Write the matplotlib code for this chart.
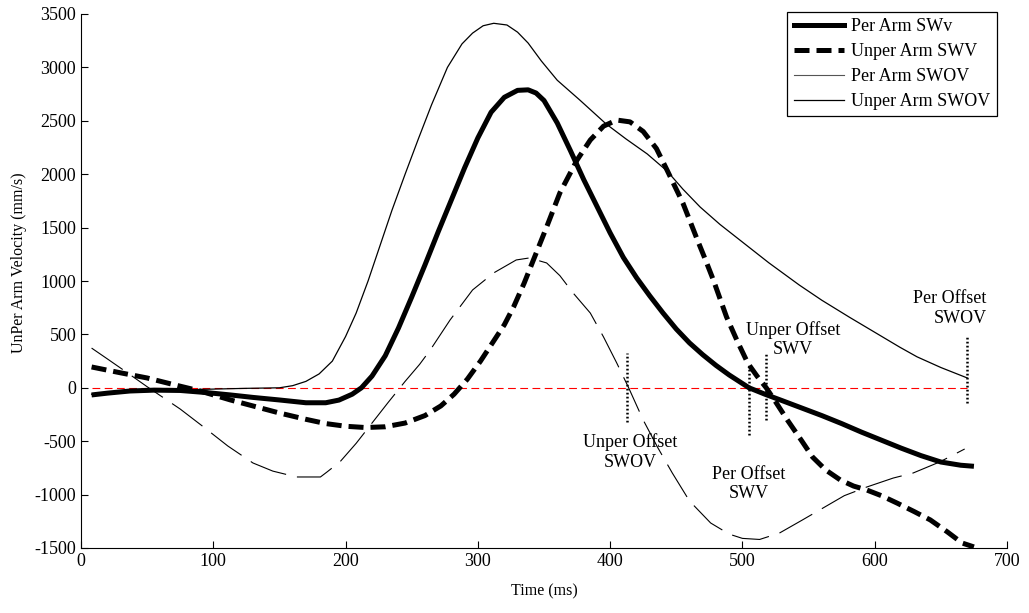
import matplotlib
matplotlib.use("Agg")
import matplotlib.pyplot as plt
from matplotlib.lines import Line2D

plt.rcParams['font.family'] = ['Liberation Serif', 'DejaVu Serif']
plt.rcParams['axes.unicode_minus'] = False

# Per Arm SWv (thick solid)
t_per_swv = [8, 20, 37, 55, 75, 95, 113, 130, 150, 170, 185, 195, 205, 212, 220, 230,
             240, 250, 260, 270, 280, 290, 300, 310, 320, 330, 338, 344, 350, 360, 370,
             380, 390, 400, 410, 420, 430, 440, 450, 460, 470, 480, 490, 505, 517, 530,
             545, 560, 575, 590, 605, 620, 635, 650, 665, 675]
v_per_swv = [-67, -50, -30, -22, -25, -45, -67, -90, -114, -140, -140, -115, -60, 0, 110, 300,
             560, 850, 1150, 1460, 1760, 2060, 2340, 2580, 2720, 2785, 2790, 2760, 2690, 2480, 2220,
             1950, 1700, 1450, 1220, 1030, 860, 700, 550, 420, 310, 210, 120, 0, -60, -120,
             -190, -260, -335, -415, -490, -565, -635, -695, -725, -735]

# Unper Arm SWV (thick dashed)
t_unper_swv = [8, 30, 50, 70, 90, 113, 130, 150, 170, 185, 200, 215, 230, 245, 260, 272,
               282, 292, 302, 311, 320, 327, 335, 342, 352, 362, 375, 385, 395, 405, 415,
               425, 435, 443, 455, 466, 472, 478, 488, 496, 504, 511, 518, 525, 534, 545,
               553, 563, 574, 584, 594, 605, 617, 630, 642, 655, 666, 675]
v_unper_swv = [195, 140, 92, 30, -30, -114, -170, -236, -295, -335, -360, -372, -365, -330, -260, -170,
               -60, 80, 250, 420, 590, 757, 980, 1197, 1506, 1825, 2133, 2320, 2450, 2507, 2490,
               2400, 2240, 2039, 1730, 1383, 1200, 1010, 663, 440, 232, 110, 0, -130, -302, -500,
               -648, -770, -863, -920, -957, -1010, -1080, -1160, -1237, -1350, -1453, -1490]

# Per Arm SWOV (thin solid)
t_per_swov = [8, 30, 60, 90, 125, 150, 160, 170, 180, 190, 200, 208, 217, 226, 235, 245,
              255, 265, 277, 288, 296, 304, 312, 322, 330, 338, 348, 360, 377, 397, 412,
              428, 443, 455, 468, 483, 498, 520, 543, 560, 581, 600, 619, 632, 650, 670]
v_per_swov = [-60, -45, -30, -15, -5, 0, 20, 60, 130, 250, 480, 700, 1000, 1330, 1660, 2000,
              2330, 2650, 3000, 3220, 3321, 3390, 3413, 3397, 3330, 3228, 3060, 2880, 2695, 2470, 2330,
              2190, 2030, 1860, 1693, 1530, 1384, 1170, 962, 820, 660, 520, 380, 290, 190, 92]

# Unper Arm SWOV (thin long-dashed)
t_unper_swov = [8, 20, 32, 50, 75, 93, 111, 130, 145, 163, 181, 186, 196, 208, 220, 232,
                245, 256, 264, 279, 296, 312, 329, 339, 352, 362, 372, 385, 395, 405, 414,
                425, 436, 447, 460, 476, 490, 500, 513, 528, 545, 561, 577, 594, 614, 629,
                649, 668]
v_unper_swov = [372, 270, 167, 10, -199, -370, -545, -704, -780, -835, -835, -788, -690, -520, -330, -140,
                60, 220, 354, 635, 916, 1076, 1197, 1216, 1169, 1050, 888, 700, 476, 232, 0,
                -302, -560, -798, -1060, -1266, -1370, -1410, -1420, -1360, -1240, -1125, -1010, -929, -845, -798,
                -695, -573]

zero_t = [8, 670]
zero_v = [0, 0]

# offset markers: (time, bottom, top)
offset_t = [413, 505, 518, 670]
offset_lo = [-320, -440, -300, -140]
offset_hi = [325, 210, 335, 485]

offset_labels = ["Unper Offset\nSWOV", "Per Offset\nSWV", "Unper Offset\nSWV", "Per Offset\nSWOV"]
label_t = [415, 505, 538, 657]
label_v = [-600, -900, 450, 742]
label_align = ['center', 'center', 'center', 'right']

legend_labels = ["Per Arm SWv", "Unper Arm SWV", "Per Arm SWOV", "Unper Arm SWOV"]

fig = plt.figure(figsize=(10.29, 6.13), dpi=100)
ax = fig.add_axes([81 / 1029, 1 - 548 / 613, 926 / 1029, 534 / 613])

ax.plot(zero_t, zero_v, color='red', lw=0.8, dashes=(7, 4))
ax.plot(t_per_swov, v_per_swov, color='black', lw=0.9)
ax.plot(t_unper_swov, v_unper_swov, color='black', lw=0.8, dashes=(34, 10))
ax.plot(t_unper_swv, v_unper_swv, color='black', lw=3.6, dashes=(3, 1.4), dash_capstyle='butt')
ax.plot(t_per_swv, v_per_swv, color='black', lw=3.6, solid_capstyle='butt')

for t, lo, hi in zip(offset_t, offset_lo, offset_hi):
    ax.plot([t, t], [lo, hi], color='black', lw=1.8, linestyle=(0, (0.7, 0.9)))

for txt, x, y, al in zip(offset_labels, label_t, label_v, label_align):
    ax.text(x, y, txt, ha='center', va='center', fontsize=13, multialignment=al, linespacing=1.2)

ax.set_xlim(0, 700)
ax.set_ylim(-1500, 3500)
ax.set_xticks(range(0, 701, 100))
ax.set_yticks(range(-1500, 3501, 500))
ax.tick_params(direction='in', length=5, labelsize=13, width=0.8)
ax.spines['top'].set_visible(False)
ax.spines['right'].set_visible(False)
ax.set_xlabel("Time (ms)", fontsize=11.5, labelpad=10)
ax.set_ylabel("UnPer Arm Velocity (mm/s)", fontsize=11.5)
ax.yaxis.set_label_coords(-0.058, 0.535)

handles = [
    Line2D([], [], color='black', lw=3.6),
    Line2D([], [], color='black', lw=3.6, dashes=(3, 1.4)),
    Line2D([], [], color='#555555', lw=0.8),
    Line2D([], [], color='black', lw=0.9),
]
leg = ax.legend(handles, legend_labels, loc='upper right', bbox_to_anchor=(997 / 1029, 1 - 12 / 613),
                bbox_transform=fig.transFigure, borderaxespad=0, fontsize=13, fancybox=False,
                framealpha=1, edgecolor='black', handlelength=2.8, labelspacing=0.44,
                handletextpad=0.4, borderpad=0.35)
leg.get_frame().set_linewidth(0.9)

fig.savefig("out.png", dpi=100)
